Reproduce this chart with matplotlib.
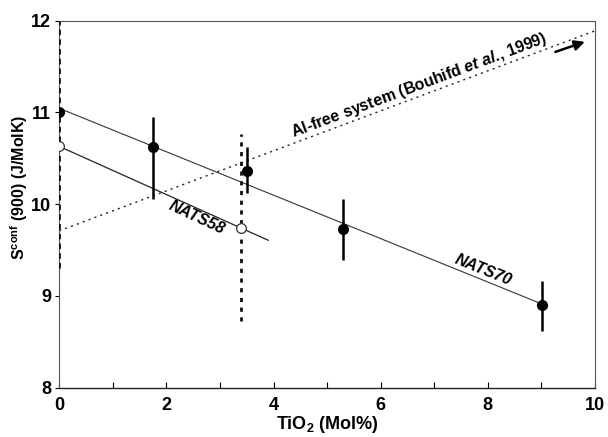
import matplotlib.pyplot as plt
import numpy as np

plt.rcParams['font.family'] = ['Liberation Sans', 'DejaVu Sans']
plt.rcParams['font.weight'] = 'bold'
plt.rcParams['mathtext.fontset'] = 'custom'
plt.rcParams['mathtext.rm'] = 'Liberation Sans:bold'
plt.rcParams['mathtext.bf'] = 'Liberation Sans:bold'
plt.rcParams['mathtext.it'] = 'Liberation Sans:bold:italic'

# NATS70 measurements (filled)
tio2_70 = [0.0, 1.75, 3.51, 5.29, 9.02]
s_70 = [11.0, 10.62, 10.365, 9.733, 8.898]
err_lo_70 = [0.0, 0.56, 0.24, 0.34, 0.28]
err_hi_70 = [0.0, 0.33, 0.255, 0.325, 0.27]
fit_70_x = [0.0, 9.02]
fit_70_y = [11.045, 8.91]

# NATS58 measurements (open)
tio2_58 = [0.0, 3.40]
s_58 = [10.63, 9.74]
fit_58_x = [0.0, 3.9]
fit_58_y = [10.63, 9.607]

# Al-free system trend (Bouhifd et al., 1999)
alfree_x = [0.0, 10.0]
alfree_y = [9.71, 11.89]

# vertical dashed markers
vline_0 = [9.3, 12.0]
vline_34 = [8.73, 10.76]

fig = plt.figure(figsize=(6.08, 4.37), dpi=100)
ax = fig.add_axes([0.0975, 0.1128, 0.8811, 0.8398])

# lines
ax.plot(fit_70_x, fit_70_y, color='#333333', lw=0.8, zorder=2)
ax.plot(fit_58_x, fit_58_y, color='#222222', lw=0.9, zorder=2)
ax.plot(alfree_x, alfree_y, color='#222222', lw=1.0, ls=(0, (1.5, 3)), zorder=2)
ax.plot([0, 0], vline_0, color='#111111', lw=2.0, ls=(0, (2, 1.5)), zorder=3)
ax.plot([3.4, 3.4], vline_34, color='#111111', lw=2.0, ls=(0, (1.5, 2)), zorder=3)

# data
ax.errorbar(tio2_70, s_70, yerr=[err_lo_70, err_hi_70], fmt='o', color='black',
            ms=7, elinewidth=1.8, capsize=0, zorder=4)
ax.plot(tio2_58, s_58, 'o', mfc='white', mec='#333333', ms=7, mew=0.9, zorder=4)

# labels on lines
ax.text(6.71, 11.29, 'Al-free system (Bouhifd $\\mathit{et}$ $\\mathit{al}$., 1999)', rotation=20.5,
        ha='center', va='center', fontsize=11.5, fontweight='bold')
ax.text(2.56, 9.855, 'NATS58', rotation=-25, ha='center', va='center',
        fontsize=11.5, fontweight='bold', style='italic')
ax.text(7.92, 9.28, 'NATS70', rotation=-22, ha='center', va='center',
        fontsize=11.5, fontweight='bold', style='italic')
ax.annotate('', xy=(9.86, 11.78), xytext=(9.21, 11.65),
            arrowprops=dict(arrowstyle='-|>', color='black', lw=1.8, mutation_scale=15))

ax.set_xlim(0, 10)
ax.set_ylim(8, 12)
ax.set_xticks(np.arange(0, 11, 2))
ax.set_xticks(np.arange(0, 11, 1), minor=True)
ax.set_yticks([8, 9, 10, 11, 12])
ax.tick_params(axis='x', which='both', direction='in', length=4, width=0.8, labelsize=13, pad=7)
ax.tick_params(axis='y', direction='out', length=3, width=0.8, labelsize=13, pad=3)
for lab in ax.get_xticklabels() + ax.get_yticklabels():
    lab.set_fontweight('bold')

for side in ['top', 'right']:
    ax.spines[side].set_color('#555555')
    ax.spines[side].set_linewidth(0.8)
ax.spines['left'].set_color('#555555')
ax.spines['bottom'].set_color('#222222')
ax.spines['bottom'].set_linewidth(1.0)

ax.set_xlabel('TiO$_2$ (Mol%)', fontsize=13, fontweight='bold', labelpad=0)
ax.set_ylabel('S$^{\\rm conf}$ (900) (J/MolK)', fontsize=11.5, fontweight='bold')
ax.yaxis.set_label_coords(-0.055, 0.547)

fig.savefig('out.png', dpi=100)
